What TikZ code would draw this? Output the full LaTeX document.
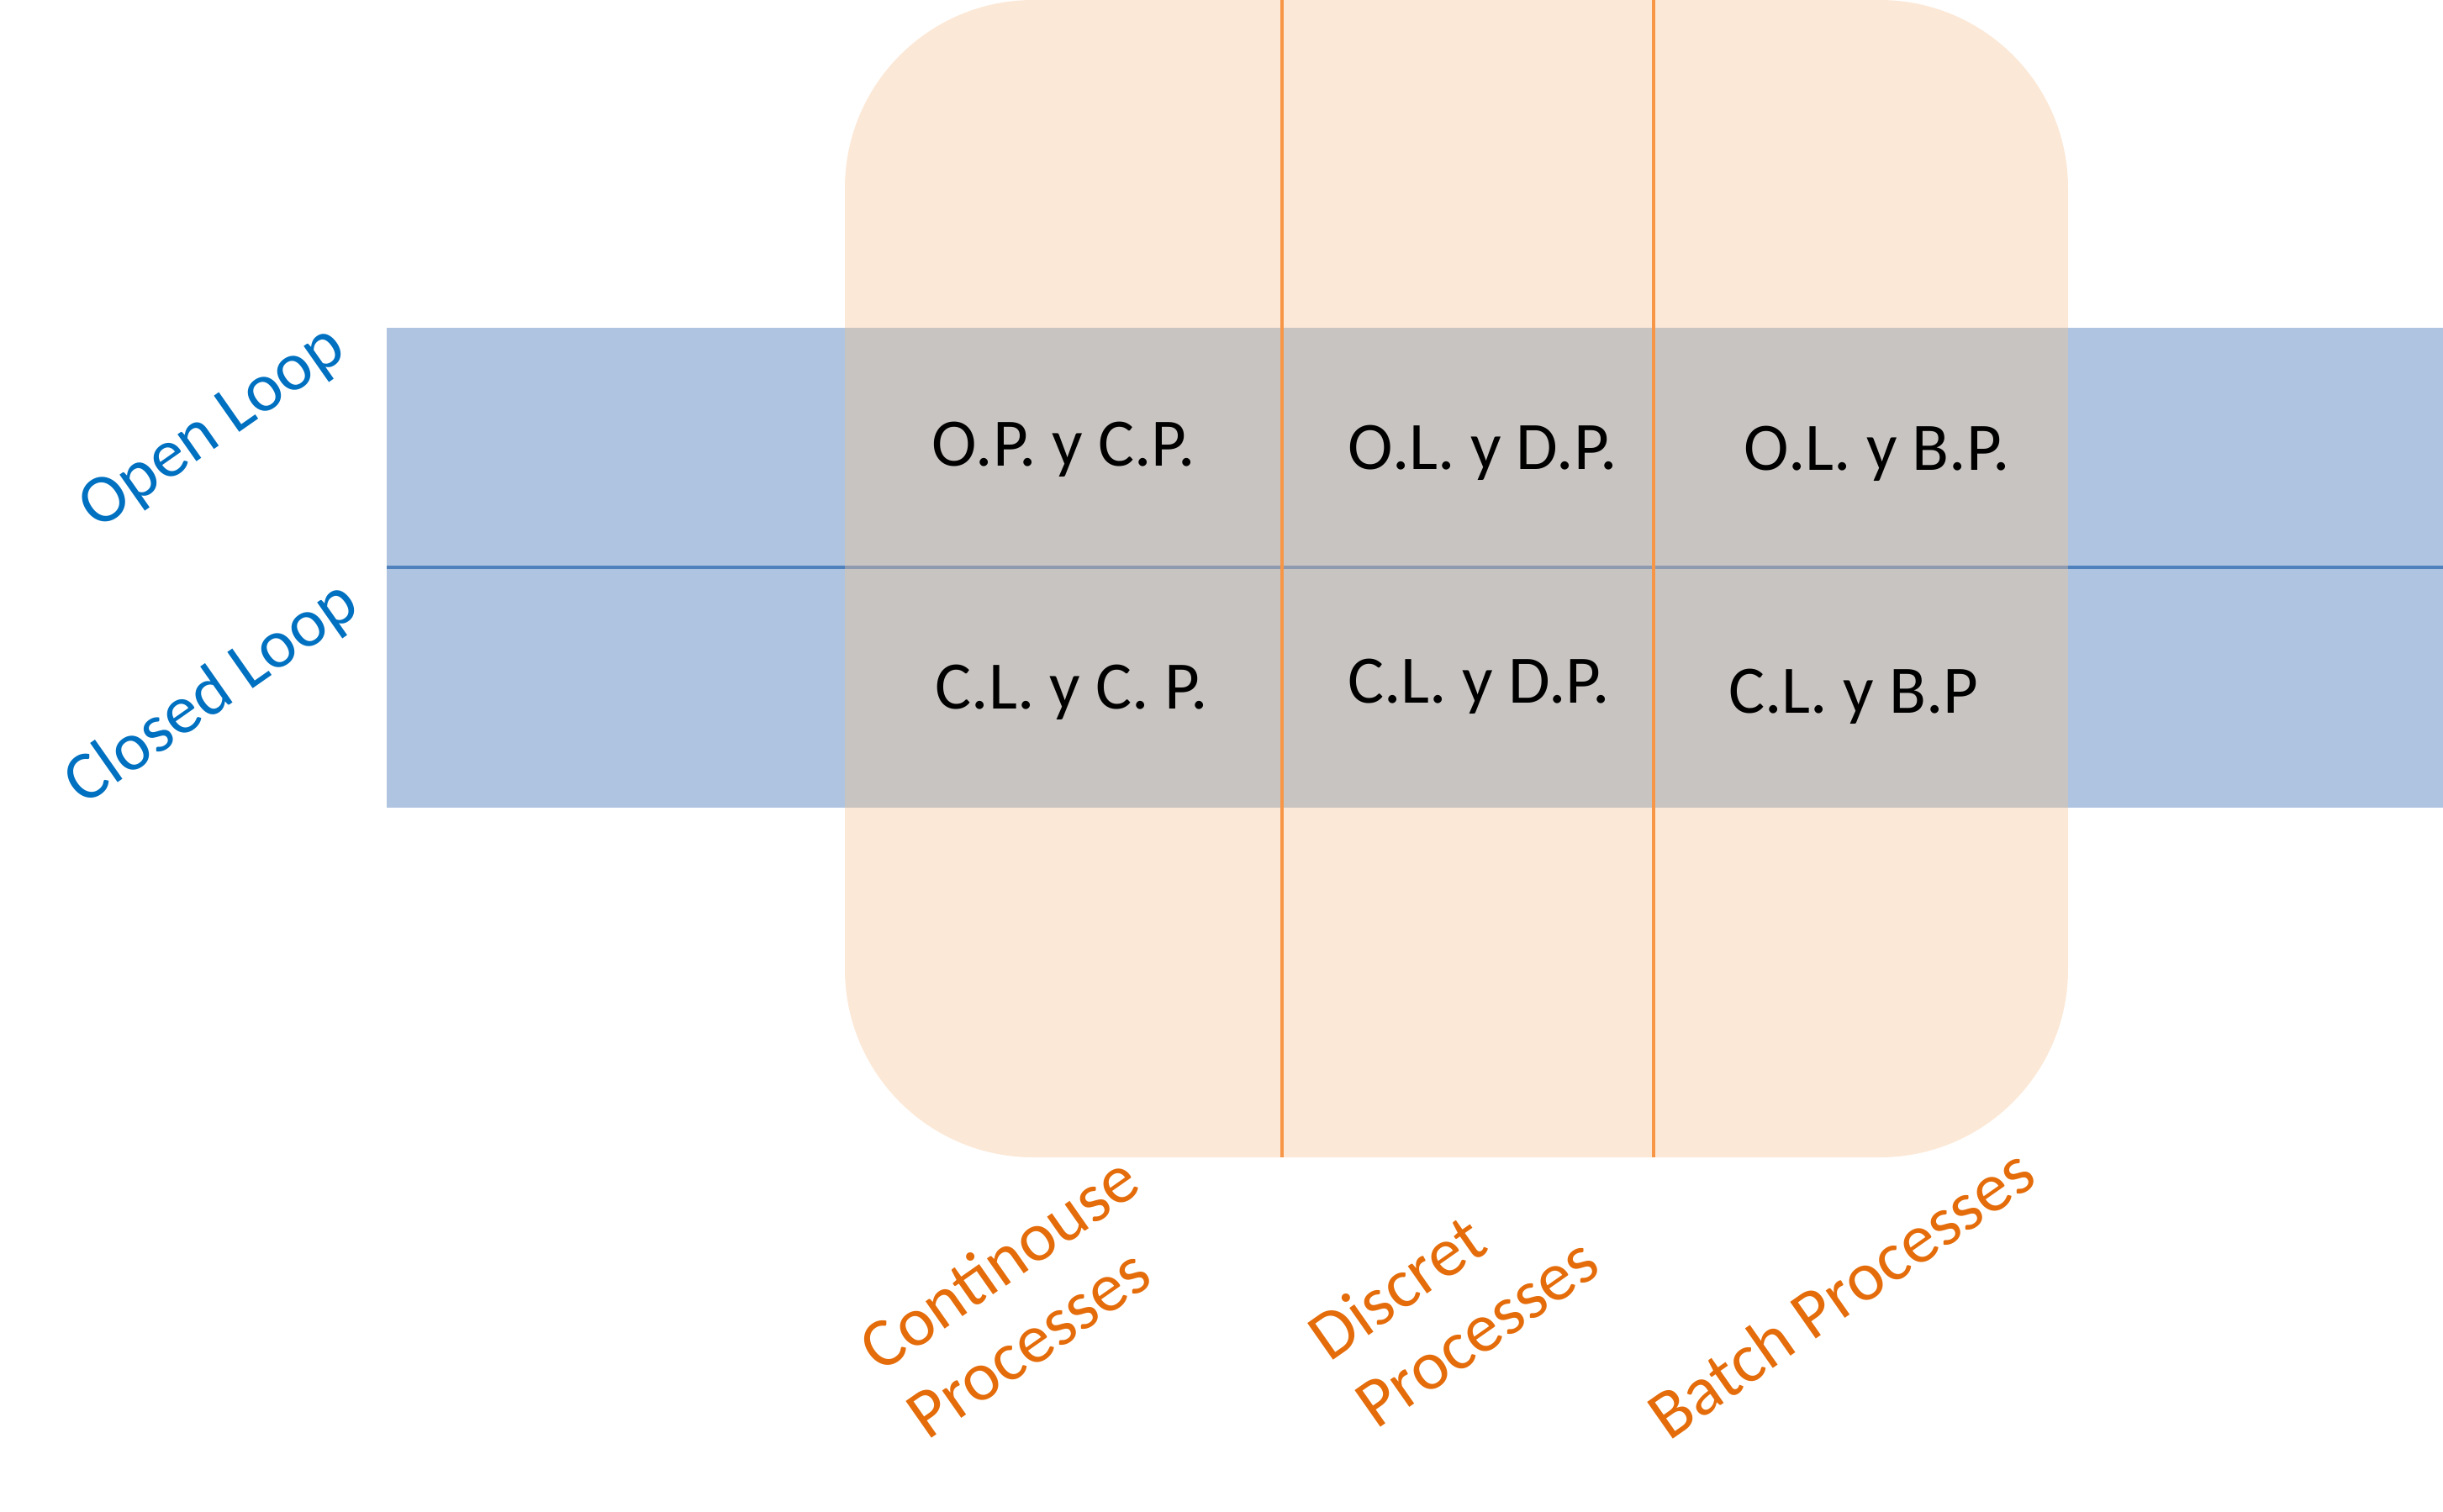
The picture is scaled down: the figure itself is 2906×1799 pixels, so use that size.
\documentclass[tikz,border=0pt]{standalone}
\usepackage{fontspec}
\setmainfont{Carlito}
\definecolor{boxorange}{HTML}{FCE8D6}
\definecolor{bandblue}{HTML}{AFC4E0}
\definecolor{overgray}{HTML}{C8C4C1}
\definecolor{lineblue}{HTML}{4F81BD}
\definecolor{linegray}{HTML}{8E9AB0}
\definecolor{lineorange}{HTML}{F79646}
\definecolor{txtblue}{HTML}{0070C0}
\definecolor{txtorange}{HTML}{E46C0A}
\tikzset{
  cell/.style={inner sep=0pt, anchor=base, font=\fontsize{20.2pt}{24pt}\selectfont, text=black},
  looplabel/.style={inner sep=0pt, rotate=35, font=\fontsize{20.5pt}{24pt}\selectfont, text=txtblue},
  proclabel/.style={inner sep=0pt, rotate=35, align=left, font=\fontsize{20.75pt}{24.5pt}\selectfont, text=txtorange},
  vline/.style={draw=lineorange, line width=0.8pt},
}
\begin{document}
\begin{tikzpicture}[x=0.25pt, y=-0.25pt]
\useasboundingbox (0,0) rectangle (2906,1799);
% orange rounded box
\fill[boxorange, rounded corners=56pt] (1005,0) rectangle (2460,1377);
% blue band
\fill[bandblue] (460,390) rectangle (2906,961);
% overlap
\fill[overgray] (1005,390) rectangle (2460,961);
% horizontal divider
\draw[lineblue, line width=1.2pt] (460,675) -- (1005,675);
\draw[linegray, line width=1.2pt] (1005,675) -- (2460,675);
\draw[lineblue, line width=1.2pt] (2460,675) -- (2906,675);
% vertical lines
\draw[vline] (1525,0) -- (1525,1377);
\draw[vline] (1967,0) -- (1967,1377);
% cell texts
\node[cell] (opcp) at (1265,554) {O.P. y C.P.};
\node[cell] (oldp) at (1764,558) {O.L. y D.P.};
\node[cell] (olbp) at (2233,559) {O.L. y B.P.};
\node[cell] (clcp) at (1275,843) {C.L. y C. P.};
\node[cell] (cldp) at (1759,836) {C.L. y D.P.};
\node[cell] (clbp) at (2205,848) {C.L. y B.P};
% row labels
\node[looplabel] (open) at (254,511) {Open Loop};
\node[looplabel] (closed) at (253,826) {Closed Loop};
% column labels
\node[proclabel] (cont) at (1216,1542) {Continouse\\Processes};
\node[proclabel] (disc) at (1728,1544) {Discret\\Processes};
\node[proclabel] (batch) at (2189,1538) {Batch Processes};
\end{tikzpicture}
\end{document}
